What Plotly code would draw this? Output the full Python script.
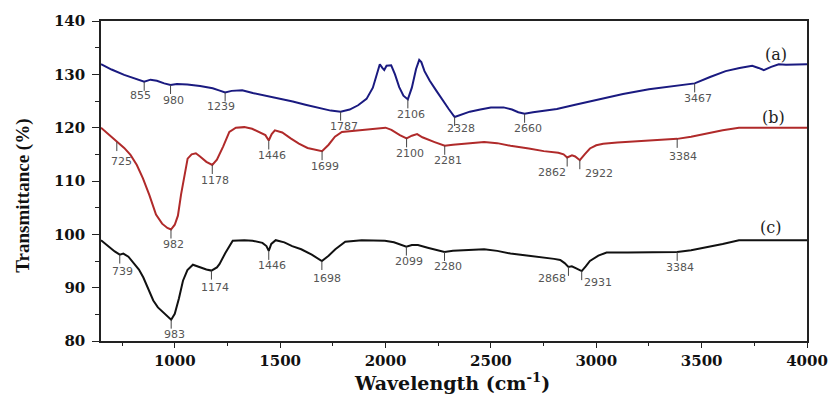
import numpy as np
import plotly.graph_objects as go

# FTIR spectra: wavenumber (cm-1) and transmittance (%)
wn_a = [650, 700, 760, 820, 855, 885, 915, 950, 980, 1010, 1060, 1120, 1180, 1210, 1239,
        1270, 1320, 1370, 1430, 1500, 1560, 1620, 1680, 1740, 1787, 1830, 1870, 1910,
        1940, 1960, 1973, 1985, 1994, 2005, 2027, 2045, 2065, 2085, 2106, 2125, 2145,
        2160, 2170, 2185, 2210, 2240, 2270, 2300, 2328, 2360, 2400, 2450, 2500, 2560,
        2600, 2630, 2660, 2700, 2751, 2813, 2900, 3000, 3127, 3250, 3380, 3467, 3540,
        3614, 3680, 3740, 3770, 3795, 3830, 3866, 3900, 3950, 4000]
t_a = [131.9, 130.9, 129.9, 129.1, 128.6, 129.0, 128.8, 128.3, 128.0, 128.2, 128.1, 127.8,
       127.4, 127.0, 126.6, 126.9, 127.0, 126.5, 126.0, 125.5, 124.9, 124.3, 123.8, 123.2,
       123.0, 123.4, 124.2, 125.4, 127.5, 130.0, 131.9, 131.2, 130.8, 131.6, 131.7, 130.0,
       127.6, 126.0, 125.3, 127.5, 131.0, 132.7, 132.3, 130.6, 128.8, 127.0, 125.2, 123.5,
       122.0, 122.5, 123.0, 123.4, 123.8, 123.8, 123.4, 122.9, 122.6, 122.9, 123.2, 123.5,
       124.3, 125.2, 126.3, 127.2, 127.9, 128.3, 129.5, 130.6, 131.2, 131.6, 131.2, 130.8,
       131.4, 131.9, 131.8, 131.9, 131.9]

wn_b = [650, 690, 725, 760, 790, 820, 849, 880, 911, 940, 965, 982, 1000, 1015, 1030, 1045,
        1061, 1080, 1100, 1120, 1150, 1178, 1200, 1230, 1259, 1290, 1330, 1367, 1400, 1430,
        1446, 1460, 1475, 1510, 1550, 1589, 1630, 1670, 1699, 1730, 1760, 1793, 1871, 1930,
        1973, 2000, 2028, 2068, 2100, 2125, 2150, 2175, 2233, 2281, 2320, 2374, 2468, 2530,
        2593, 2680, 2751, 2820, 2845, 2862, 2885, 2900, 2922, 2945, 2970, 3000, 3033, 3100,
        3206, 3300, 3384, 3450, 3520, 3600, 3677, 4000]
t_b = [120.0, 118.6, 117.3, 116.2, 114.9, 113.0, 110.5, 107.3, 103.7, 102.0, 101.2, 100.9,
       101.8, 103.5, 107.5, 111.0, 114.2, 115.0, 115.2, 114.6, 113.6, 113.0, 114.0, 116.5,
       119.2, 120.0, 120.1, 119.8, 119.2, 118.6, 117.6, 118.8, 119.5, 119.1, 118.0, 117.0,
       116.2, 115.8, 115.6, 116.8, 118.3, 119.2, 119.5, 119.8, 120.0, 120.0, 119.6, 118.6,
       118.0, 118.5, 118.8, 118.2, 117.3, 116.6, 116.8, 117.0, 117.3, 117.1, 116.6, 116.1,
       115.6, 115.3, 115.0, 114.4, 114.8, 114.6, 113.9, 115.0, 116.1, 116.7, 117.0, 117.2,
       117.5, 117.7, 117.9, 118.3, 118.9, 119.5, 120.0, 120.0]

wn_c = [650, 690, 715, 739, 756, 780, 804, 830, 851, 875, 898, 920, 945, 965, 983, 1000,
        1020, 1039, 1060, 1086, 1118, 1150, 1174, 1200, 1212, 1240, 1275, 1330, 1369, 1416,
        1435, 1446, 1458, 1479, 1520, 1557, 1600, 1650, 1698, 1730, 1762, 1809, 1887, 1997,
        2040, 2075, 2099, 2125, 2154, 2200, 2233, 2280, 2320, 2374, 2468, 2530, 2593, 2680,
        2751, 2800, 2829, 2850, 2868, 2884, 2905, 2931, 2950, 2970, 3010, 3049, 3150, 3253,
        3384, 3450, 3520, 3600, 3677, 4000]
t_c = [98.9, 97.6, 96.8, 96.2, 96.4, 95.8, 94.7, 93.4, 91.9, 89.8, 87.6, 86.3, 85.4, 84.7,
       84.0, 85.1, 88.0, 91.3, 93.3, 94.3, 93.8, 93.4, 93.2, 93.8, 94.4, 96.5, 98.8, 98.9,
       98.8, 98.4, 97.8, 96.9, 98.2, 98.9, 98.5, 97.8, 97.2, 96.2, 95.0, 96.0, 97.2, 98.6,
       98.9, 98.8, 98.5, 98.0, 97.7, 98.0, 98.0, 97.5, 97.2, 96.7, 96.9, 97.0, 97.2, 96.9,
       96.4, 96.0, 95.7, 95.4, 95.2, 94.6, 93.9, 94.0, 93.6, 93.1, 94.0, 95.0, 96.0, 96.6,
       96.6, 96.6, 96.7, 97.0, 97.5, 98.2, 98.9, 98.9]

# Marked band positions (cm-1) for each spectrum
peaks_a = [855, 980, 1239, 1787, 2106, 2328, 2660, 3467]
peaks_b = [725, 982, 1178, 1446, 1699, 2100, 2281, 2862, 2922, 3384]
peaks_c = [739, 983, 1174, 1446, 1698, 2099, 2280, 2868, 2931, 3384]

series_names = ["(a)", "(b)", "(c)"]
x_ticks = [1000, 1500, 2000, 2500, 3000, 3500, 4000]
y_ticks = [80, 90, 100, 110, 120, 130, 140]

colors = ["#1a1a80", "#b02a2a", "#111111"]

# label offsets in pixels (dx, dy) where a label sits off its tick
label_shift = {
    ("b", 2862): (-15, 15), ("b", 2922): (19, 13),
    ("c", 2868): (-16, 12), ("c", 2931): (16, 11),
    ("a", 2328): (6, 11), ("a", 855): (-4, 14), ("a", 1239): (-4, 14),
    ("b", 725): (5, 19), ("b", 3384): (6, 18), ("c", 3384): (3, 16),
    ("c", 1174): (4, 17), ("c", 1698): (5, 17), ("c", 739): (3, 17),
}

fig = go.Figure()
data = [("a", wn_a, t_a, peaks_a), ("b", wn_b, t_b, peaks_b), ("c", wn_c, t_c, peaks_c)]
shapes, annotations = [], []
for i, (key, wn, tr, peaks) in enumerate(data):
    fig.add_trace(go.Scatter(x=wn, y=tr, mode="lines", name=series_names[i],
                             line=dict(color=colors[i], width=2), showlegend=False))
    for p in peaks:
        yv = float(np.interp(p, wn, tr))
        shapes.append(dict(type="line", xref="x", yref="y", ysizemode="pixel",
                           yanchor=yv, x0=p, x1=p, y0=0, y1=-9,
                           line=dict(color="#444444", width=1)))
        dx, dy = label_shift.get((key, p), (3, 15))
        annotations.append(dict(x=p, y=yv, xref="x", yref="y", text=str(p),
                                showarrow=False, xshift=dx, yshift=-dy,
                                font=dict(family="DejaVu Sans", size=11, color="#555555")))

# series tags at the right end of each spectrum
for text, (x, y) in zip(series_names, [(3853, 133.7), (3842, 122.0), (3826, 101.2)]):
    annotations.append(dict(x=x, y=y, xref="x", yref="y", text=text, showarrow=False,
                            font=dict(family="DejaVu Serif", size=16, color="#222222")))

# axis titles
annotations.append(dict(x=-0.11, y=0.455, xref="paper", yref="paper", textangle=-90,
                        xanchor="center", yanchor="middle",
                        text="<b>Transmittance (%)</b>", showarrow=False,
                        font=dict(family="Liberation Serif", size=19, color="#111111")))
annotations.append(dict(x=0.497, y=-0.127, xref="paper", yref="paper",
                        xanchor="center", yanchor="middle",
                        text="<b>Wavelength (cm<sup>-1</sup>)</b>", showarrow=False,
                        font=dict(family="DejaVu Serif", size=19, color="#111111")))

tick_font = dict(family="DejaVu Serif", size=15, color="#111111", weight="bold")
fig.update_layout(
    width=840, height=403,
    margin=dict(l=101, r=28, t=18, b=62),
    paper_bgcolor="white", plot_bgcolor="white",
    shapes=shapes, annotations=annotations,
    xaxis=dict(range=[650, 4000], tickvals=x_ticks, ticks="outside", ticklen=5,
               tickwidth=1.3, tickcolor="#222", showline=True, linecolor="#222",
               linewidth=1.5, mirror=True, showgrid=False, zeroline=False,
               tickfont=tick_font,
               minor=dict(ticks="outside", ticklen=3, dtick=250, tick0=0,
                          tickcolor="#222", showgrid=False)),
    yaxis=dict(range=[80, 140], tickvals=y_ticks, ticks="outside", ticklen=7,
               tickwidth=1.3, tickcolor="#222", showline=True, linecolor="#222",
               linewidth=1.5, mirror=True, showgrid=False, zeroline=False,
               tickfont=tick_font, ticklabelstandoff=4,
               minor=dict(ticks="outside", ticklen=4, dtick=5, tick0=0,
                          tickcolor="#222", showgrid=False)),
)

fig.write_html("out.html")
